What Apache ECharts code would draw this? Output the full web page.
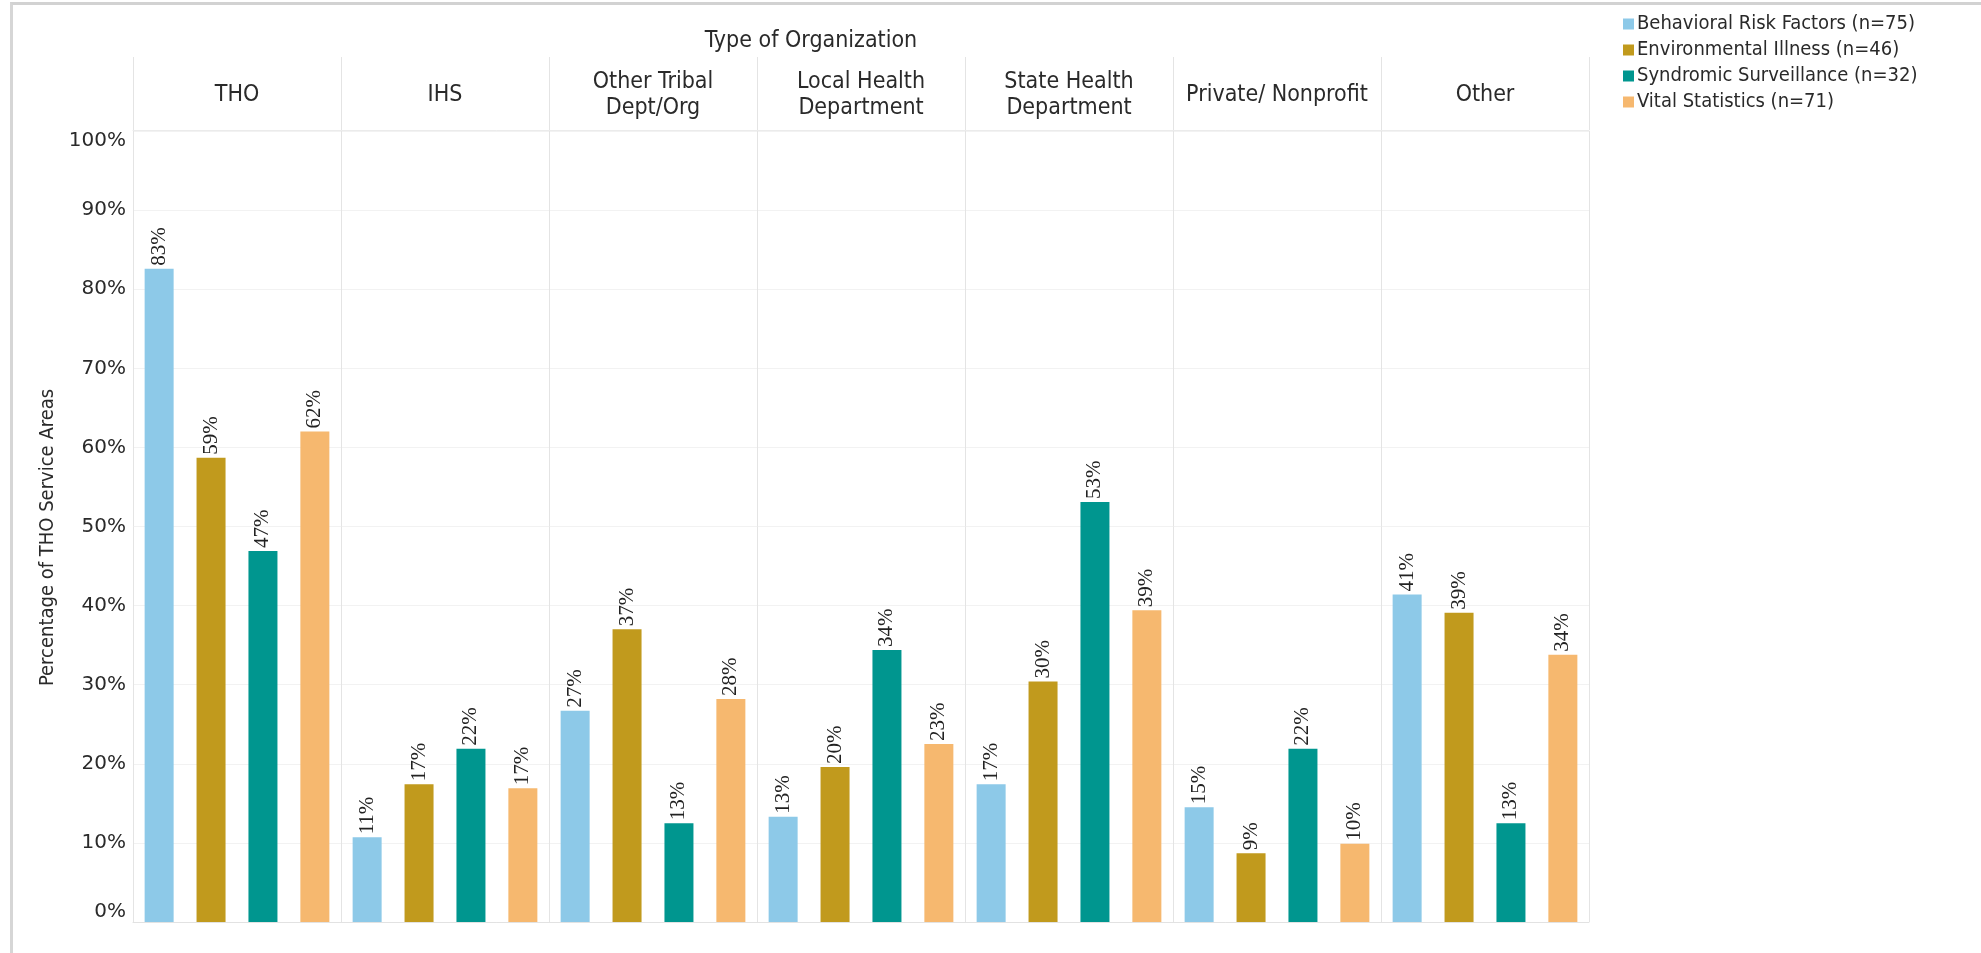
<!DOCTYPE html>
<html>
<head>
<meta charset="utf-8">
<script src="https://cdn.jsdelivr.net/npm/echarts@6/dist/echarts.min.js"></script>
<style>
  html, body { margin: 0; padding: 0; background: #ffffff; }
  #chart { position: absolute; left: 0; top: 0; width: 1981px; height: 953px; }
  #frame { position: absolute; left: 10px; top: 2px; width: 1971px; height: 951px;
           border-top: 3px solid #d2d2d2; border-left: 3px solid #d6d6d6; box-sizing: border-box; pointer-events: none; }
</style>
</head>
<body>
<div id="chart"></div>
<div id="frame"></div>
<script>
const categories = ['THO', 'IHS', 'Other Tribal\nDept/Org', 'Local Health\nDepartment', 'State Health\nDepartment', 'Private/ Nonprofit', 'Other'];
const seriesNames = ['Behavioral Risk Factors (n=75)', 'Environmental Illness (n=46)', 'Syndromic Surveillance (n=32)', 'Vital Statistics (n=71)'];
const behavioral = [82.6, 10.7, 26.7, 13.3, 17.4, 14.5, 41.4];
const environmental = [58.7, 17.4, 37.0, 19.6, 30.4, 8.7, 39.1];
const syndromic = [46.9, 21.9, 12.5, 34.4, 53.1, 21.9, 12.5];
const vital = [62.0, 16.9, 28.2, 22.5, 39.4, 9.9, 33.8];
const yTicks = [0, 10, 20, 30, 40, 50, 60, 70, 80, 90, 100];
const colors = ['#8DC9E8', '#C19A1D', '#00968F', '#F6B86F'];

const allValues = [behavioral, environmental, syndromic, vital];
const labelFont = 'Liberation Sans Narrow';
const textFont = 'DejaVu Sans Condensed';

const chart = echarts.init(document.getElementById('chart'), null, { renderer: 'canvas' });
const option = {
  backgroundColor: '#ffffff',
  animation: false,
  color: colors,
  title: {
    text: 'Type of Organization',
    left: 806, top: 25, textAlign: 'center',
    textStyle: { fontFamily: textFont, fontSize: 23, fontWeight: 'normal', color: '#2a2a2a' }
  },
  legend: {
    orient: 'vertical', left: 1618, top: 9,
    itemWidth: 11, itemHeight: 11, itemGap: 6,
    icon: 'rect',
    data: seriesNames,
    textStyle: { fontFamily: textFont, fontSize: 20, color: '#2a2a2a', padding: [0, 0, 0, -2] }
  },
  grid: [
    { left: 133, right: 392, top: 131, bottom: 31 },
    { left: 133, right: 392, top: 57, height: 73 }
  ],
  xAxis: [
    {
      type: 'category', gridIndex: 0, data: categories, boundaryGap: true,
      axisLine: { show: true, lineStyle: { color: '#e2e2e2', width: 1 } },
      axisTick: { show: false }, axisLabel: { show: false },
      splitLine: { show: true, lineStyle: { color: '#e4e4e4', width: 1 } }
    },
    {
      type: 'category', gridIndex: 1, data: categories, boundaryGap: true, position: 'bottom',
      axisLine: { show: true, lineStyle: { color: '#ebebeb', width: 1 } },
      axisTick: { show: false },
      axisLabel: { show: true, inside: true, margin: 35, verticalAlign: 'middle', interval: 0,
                   fontFamily: textFont, fontSize: 23, lineHeight: 26, color: '#2a2a2a', align: 'center' },
      splitLine: { show: true, lineStyle: { color: '#e4e4e4', width: 1 } }
    }
  ],
  yAxis: [
    {
      type: 'value', gridIndex: 0, min: yTicks[0], max: yTicks[yTicks.length - 1], interval: 10,
      name: 'Percentage of THO Service Areas', nameLocation: 'middle', nameRotate: 90, nameGap: 74,
      nameTextStyle: { fontFamily: textFont, fontSize: 20, color: '#2a2a2a', padding: [0, 22, 0, 0] },
      axisLine: { show: false }, axisTick: { show: false },
      axisLabel: { formatter: '{value}%', fontFamily: 'DejaVu Sans', fontSize: 20, color: '#2a2a2a', margin: 7,
                   verticalAlignMinLabel: 'bottom', verticalAlignMaxLabel: 'top' },
      splitLine: { show: true, lineStyle: { color: '#f2f2f2', width: 1 } }
    },
    { type: 'value', gridIndex: 1, show: false, min: 0, max: 1 }
  ],
  series: allValues.map((vals, i) => ({
    name: seriesNames[i],
    type: 'bar',
    xAxisIndex: 0, yAxisIndex: 0,
    data: vals,
    barWidth: 29,
    barGap: '79%',
    itemStyle: { color: colors[i] },
    label: {
      show: true, position: 'top', rotate: 90, align: 'left', verticalAlign: 'middle', distance: 3,
      formatter: p => Math.round(p.value) + '%',
      fontFamily: labelFont, fontSize: 21, color: '#222222'
    }
  }))
};
chart.setOption(option);
</script>
</body>
</html>
